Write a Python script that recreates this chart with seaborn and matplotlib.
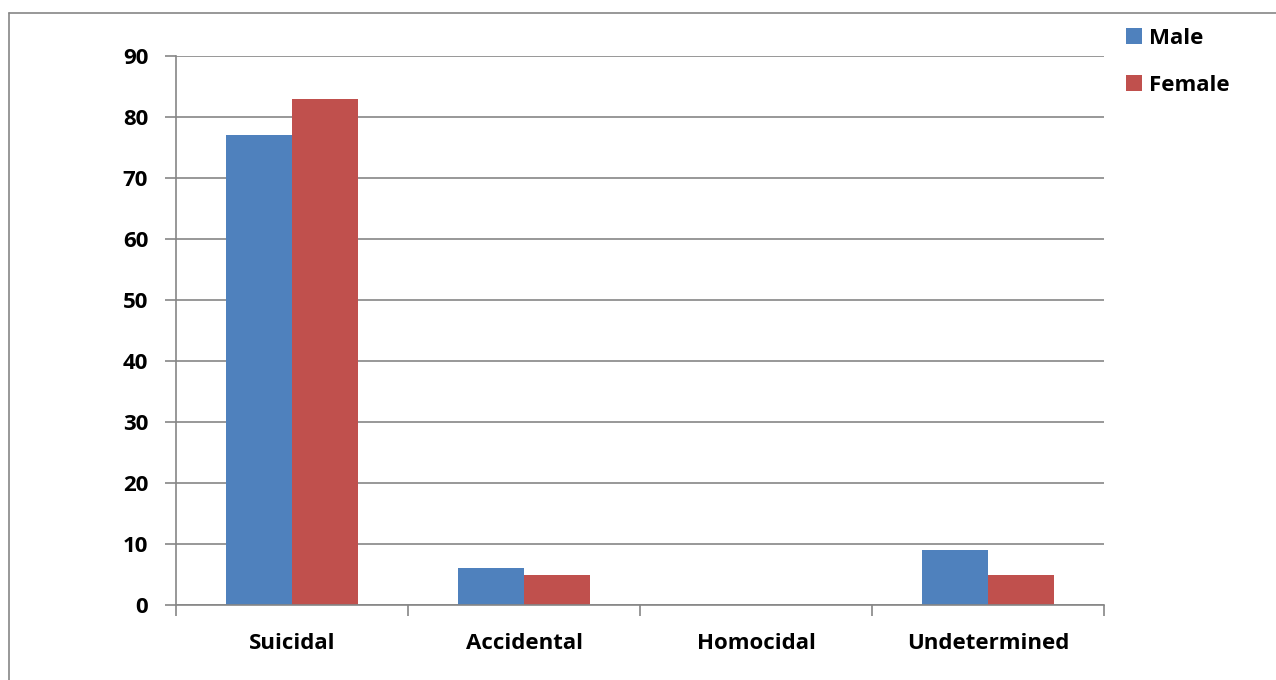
import matplotlib
matplotlib.use("Agg")
import matplotlib.pyplot as plt
import seaborn as sns
import pandas as pd
from matplotlib.lines import Line2D

categories = ["Suicidal", "Accidental", "Homocidal", "Undetermined"]
male = [77, 6, 0, 9]
female = [83, 5, 0, 5]
series = ["Male", "Female"]
yticks = [0, 10, 20, 30, 40, 50, 60, 70, 80, 90]

df = pd.DataFrame({
    "category": categories * 2,
    "value": male + female,
    "sex": ["Male"] * len(categories) + ["Female"] * len(categories),
})

sns.set_theme(style="white")
plt.rcParams['font.family'] = ['Open Sans', 'DejaVu Sans']
plt.rcParams['font.weight'] = 'bold'
plt.rcParams['text.color'] = 'black'
plt.rcParams['xtick.labelcolor'] = 'black'
plt.rcParams['ytick.labelcolor'] = 'black'

fig = plt.figure(figsize=(12.76, 6.8), dpi=100)
ax = fig.add_axes([176/1276, 1-605/680, (1104-176)/1276, (605-56)/680])

grid_c = "#868686"
sns.barplot(data=df, x="category", y="value", hue="sex", order=categories,
            hue_order=series, palette=["#4F81BD", "#C0504D"], width=4/7,
            saturation=1, ax=ax, edgecolor="none", linewidth=0)

fs = 16
ax.set_ylim(0, 90)
ax.set_xlim(-0.5, 3.5)
ax.set_yticks(yticks)
ax.set_yticklabels([str(v) for v in yticks], fontsize=fs, fontweight='bold', color='black')
ax.set_xticks(range(len(categories)))
ax.set_xticklabels(categories, fontsize=fs, fontweight='bold', color='black')
ax.set_xticks([-0.5, 0.5, 1.5, 2.5, 3.5], minor=True)
ax.tick_params(axis='x', which='major', length=0, pad=20.5)
ax.tick_params(axis='x', which='minor', length=8, width=1.2, color=grid_c, direction='out', bottom=True)
ax.tick_params(axis='y', which='major', length=8, width=1.2, color=grid_c, direction='out', left=True, pad=12)
ax.set_xlabel("")
ax.set_ylabel("")
ax.yaxis.grid(True, color=grid_c, linewidth=1.2)
ax.set_axisbelow(True)
for s in ["top", "right"]:
    ax.spines[s].set_visible(False)
for s in ["left", "bottom"]:
    ax.spines[s].set_color(grid_c)
    ax.spines[s].set_linewidth(1.2)

leg = ax.legend(loc="upper left", bbox_to_anchor=(1106/1276, 1-8/680),
                bbox_transform=fig.transFigure, frameon=False,
                prop={'size': fs, 'weight': 'bold'}, handlelength=0.7,
                handleheight=0.7, handletextpad=0.35, labelspacing=1.15)
for t in leg.get_texts():
    t.set_color('black')

# outer chart border (top and left visible)
fig.add_artist(Line2D([9/1276, 1.0], [1-13/680, 1-13/680], transform=fig.transFigure,
                      color=grid_c, linewidth=1.2))
fig.add_artist(Line2D([9/1276, 9/1276], [0.0, 1-13/680], transform=fig.transFigure,
                      color=grid_c, linewidth=1.2))

fig.savefig("out.png", dpi=100, facecolor="white")
